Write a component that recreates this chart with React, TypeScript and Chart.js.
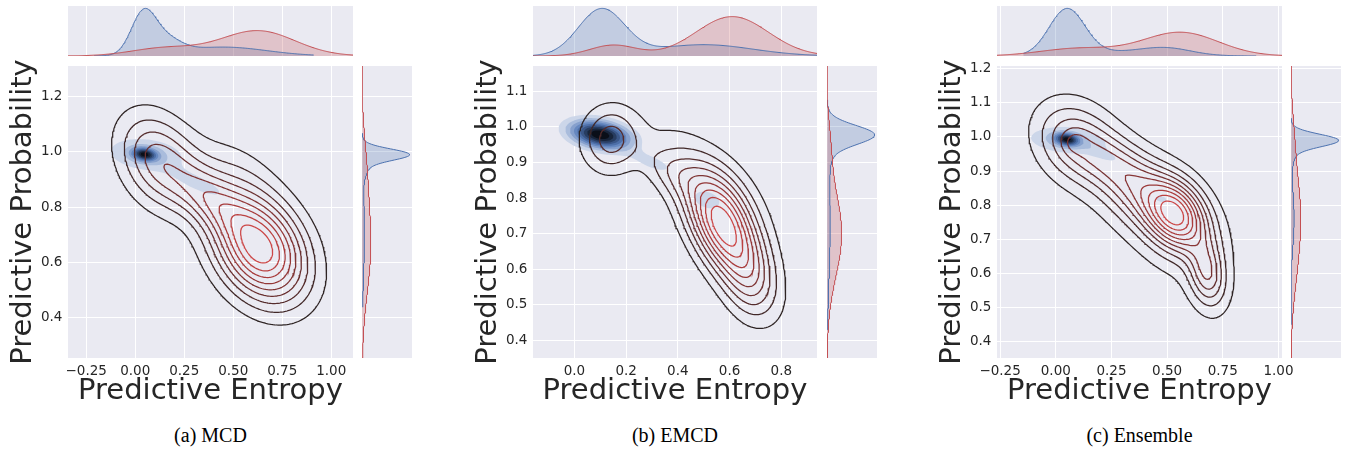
import React, { useEffect, useRef } from "react";
import { Chart, registerables } from "chart.js";
Chart.register(...registerables);

// ---------------- DATA ----------------
// 2-D kernels: [meanEntropy, meanProb, sdEntropy, sdProb, rho, peak]
// 1-D kernels: [mean, sd, peak]

// (a) MCD
const mcdXTicks = [-0.25, 0, 0.25, 0.5, 0.75, 1.0];
const mcdXTickLabels = ["\u22120.25", "0.00", "0.25", "0.50", "0.75", "1.00"];
const mcdYTicks = [0.4, 0.6, 0.8, 1.0, 1.2];
const mcdYTickLabels = ["0.4", "0.6", "0.8", "1.0", "1.2"];
const mcdXRange = [-0.343, 1.111];
const mcdYRange = [0.254, 1.31];
const mcdRedKernels = [
  [0.635, 0.65, 0.16, 0.13, -0.3, 1.0],
  [0.38, 0.83, 0.13, 0.085, -0.55, 0.38],
  [0.12, 0.965, 0.14, 0.119, -0.3, 0.45],
  [0.5, 0.93, 0.15, 0.1, -0.4, 0.12],
];
const mcdBlueKernels = [
  [0.048, 0.99, 0.04, 0.015, -0.2, 1.0],
  [0.055, 0.99, 0.13, 0.04, -0.2, 0.35],
  [0.32, 0.885, 0.11, 0.04, -0.8, 0.22],
];
const mcdBlueEntropy = [[0.04, 0.062, 40], [0.15, 0.08, 15], [0.45, 0.22, 9]];
const mcdRedEntropy = [[0.625, 0.19, 25.5], [0.15, 0.17, 8]];
const mcdBlueProb = [[0.99, 0.02, 42], [0.96, 0.04, 6], [0.7, 0.15, 2.5]];
const mcdRedProb = [[0.66, 0.17, 8.5], [0.95, 0.12, 3]];
const mcdBlueEntropySpan = [-0.21, 0.91];
const mcdBlueProbSpan = [0.438, 1.067];
const mcdRedLevels = 9;
const mcdBlueLevels = 9;

// (b) EMCD
const emcdXTicks = [0, 0.2, 0.4, 0.6, 0.8];
const emcdXTickLabels = ["0.0", "0.2", "0.4", "0.6", "0.8"];
const emcdYTicks = [0.4, 0.5, 0.6, 0.7, 0.8, 0.9, 1.0, 1.1];
const emcdYTickLabels = ["0.4", "0.5", "0.6", "0.7", "0.8", "0.9", "1.0", "1.1"];
const emcdXRange = [-0.16, 0.938];
const emcdYRange = [0.351, 1.171];
const emcdRedKernels = [
  [0.575, 0.725, 0.085, 0.095, -0.4, 0.6],
  [0.55, 0.74, 0.14, 0.15, -0.75, 0.32],
  [0.68, 0.57, 0.07, 0.08, -0.2, 0.25],
  [0.37, 0.875, 0.08, 0.05, -0.5, 0.14],
  [0.14, 0.965, 0.077, 0.064, 0, 0.34],
  [0.155, 0.96, 0.015, 0.012, 0, 0.02],
  [0.62, 0.8, 0.12, 0.1, -0.5, 0.08],
];
const emcdBlueKernels = [
  [0.1, 0.978, 0.075, 0.026, -0.3, 1.0],
  [0.3, 0.9, 0.07, 0.025, -0.7, 0.14],
  [0.513, 0.795, 0.04, 0.02, -0.3, 0.2],
];
const emcdBlueEntropy = [[0.105, 0.09, 47], [0.5, 0.19, 11.5]];
const emcdRedEntropy = [[0.61, 0.14, 40], [0.15, 0.09, 11]];
const emcdBlueProb = [[0.978, 0.026, 43], [0.95, 0.05, 4], [0.72, 0.15, 3.2]];
const emcdRedProb = [[0.7, 0.12, 14.5], [0.95, 0.07, 2.5]];
const emcdBlueEntropySpan = [-0.16, 0.938];
const emcdBlueProbSpan = [0.43, 1.076];
const emcdRedLevels = 9;
const emcdBlueLevels = 9;

// (c) Ensemble
const ensXTicks = [-0.25, 0, 0.25, 0.5, 0.75, 1.0];
const ensXTickLabels = ["\u22120.25", "0.00", "0.25", "0.50", "0.75", "1.00"];
const ensYTicks = [0.4, 0.5, 0.6, 0.7, 0.8, 0.9, 1.0, 1.1, 1.2];
const ensYTickLabels = ["0.4", "0.5", "0.6", "0.7", "0.8", "0.9", "1.0", "1.1", "1.2"];
const ensXRange = [-0.264, 1.016];
const ensYRange = [0.352, 1.208];
const ensRedKernels = [
  [0.545, 0.77, 0.09, 0.07, -0.25, 0.55],
  [0.42, 0.82, 0.16, 0.09, -0.6, 0.38],
  [0.68, 0.6, 0.055, 0.065, -0.2, 0.35],
  [0.08, 0.985, 0.12, 0.08, -0.2, 0.27],
  [0.083, 0.984, 0.035, 0.022, 0, 0.08],
  [0.25, 0.93, 0.12, 0.06, -0.5, 0.15],
  [0.45, 0.76, 0.32, 0.24, -0.7, 0.08],
];
const ensBlueKernels = [
  [0.05, 0.993, 0.035, 0.012, -0.2, 0.8],
  [0.055, 0.99, 0.12, 0.027, -0.2, 0.28],
  [0.22, 0.945, 0.06, 0.018, -0.7, 0.13],
  [0.473, 0.818, 0.035, 0.012, -0.3, 0.14],
];
const ensBlueEntropy = [[0.05, 0.08, 45.5], [0.3, 0.2, 4], [0.5, 0.11, 6]];
const ensRedEntropy = [[0.56, 0.17, 23.5], [0.1, 0.17, 7.5]];
const ensBlueProb = [[0.99, 0.018, 42], [0.965, 0.035, 4], [0.76, 0.08, 3]];
const ensRedProb = [[0.78, 0.12, 8.5], [0.6, 0.1, 3], [1.0, 0.08, 2]];
const ensBlueEntropySpan = [-0.145, 0.9];
const ensBlueProbSpan = [0.45, 1.055];
const ensRedLevels = 10;
const ensBlueLevels = 9;

const captions = ["(a) MCD", "(b) EMCD", "(c) Ensemble"];
const xTitle = "Predictive Entropy";
const yTitle = "Predictive Probability";

// ---------------- STYLE / LAYOUT ----------------
const FONT = "'DejaVu Sans', sans-serif";
const TEXT = "#262626";
const BG = "#EAEAF2";
const BLUE_STOPS = ["#ccd6e9", "#a9bcdc", "#86a0cd", "#6688c0", "#4d6fa8", "#3a5687", "#283d61", "#18253b", "#0a0f19"];
const RED_STOPS = ["#2e2424", "#4c2a2a", "#6e3131", "#903737", "#b03e3e", "#cc4747"];
const BLUE_LINE = "#4c72b0";
const RED_LINE = "#c44e52";
const BLUE_FILL = "rgba(76,114,176,0.25)";
const RED_FILL = "rgba(196,78,82,0.25)";

const layouts = [
  { L: 68, R: 353, mL: 362, mR: 412 },
  { L: 533, R: 817, mL: 827, mR: 877 },
  { L: 997, R: 1282, mL: 1291, mR: 1341 },
];
const PT = 66, PB = 358, TT = 6, TB = 56;

interface PanelData {
  xTicks: number[]; xTickLabels: string[]; yTicks: number[]; yTickLabels: string[];
  xRange: number[]; yRange: number[];
  red: number[][]; blue: number[][];
  blueEnt: number[][]; redEnt: number[][]; blueProb: number[][]; redProb: number[][];
  blueEntSpan: number[]; blueProbSpan: number[];
  redLevels: number; blueLevels: number;
}

const panels: PanelData[] = [
  { xTicks: mcdXTicks, xTickLabels: mcdXTickLabels, yTicks: mcdYTicks, yTickLabels: mcdYTickLabels,
    xRange: mcdXRange, yRange: mcdYRange, red: mcdRedKernels, blue: mcdBlueKernels,
    blueEnt: mcdBlueEntropy, redEnt: mcdRedEntropy, blueProb: mcdBlueProb, redProb: mcdRedProb,
    blueEntSpan: mcdBlueEntropySpan, blueProbSpan: mcdBlueProbSpan, redLevels: mcdRedLevels, blueLevels: mcdBlueLevels },
  { xTicks: emcdXTicks, xTickLabels: emcdXTickLabels, yTicks: emcdYTicks, yTickLabels: emcdYTickLabels,
    xRange: emcdXRange, yRange: emcdYRange, red: emcdRedKernels, blue: emcdBlueKernels,
    blueEnt: emcdBlueEntropy, redEnt: emcdRedEntropy, blueProb: emcdBlueProb, redProb: emcdRedProb,
    blueEntSpan: emcdBlueEntropySpan, blueProbSpan: emcdBlueProbSpan, redLevels: emcdRedLevels, blueLevels: emcdBlueLevels },
  { xTicks: ensXTicks, xTickLabels: ensXTickLabels, yTicks: ensYTicks, yTickLabels: ensYTickLabels,
    xRange: ensXRange, yRange: ensYRange, red: ensRedKernels, blue: ensBlueKernels,
    blueEnt: ensBlueEntropy, redEnt: ensRedEntropy, blueProb: ensBlueProb, redProb: ensRedProb,
    blueEntSpan: ensBlueEntropySpan, blueProbSpan: ensBlueProbSpan, redLevels: ensRedLevels, blueLevels: ensBlueLevels },
];

// ---------------- KDE helpers ----------------
type Pt = { x: number; y: number };

function density2(ks: number[][], x: number, y: number) {
  let s = 0;
  for (const [mx, my, sx, sy, r, a] of ks) {
    const dx = (x - mx) / sx, dy = (y - my) / sy;
    const q = (dx * dx - 2 * r * dx * dy + dy * dy) / (1 - r * r);
    s += a * Math.exp(-0.5 * q);
  }
  return s;
}
function density1(ks: number[][], v: number) {
  let s = 0;
  for (const [m, sd, a] of ks) { const d = (v - m) / sd; s += a * Math.exp(-0.5 * d * d); }
  return s;
}

function buildGrid(ks: number[][], xr: number[], yr: number[], n: number) {
  const pad = 0.3;
  const x0 = xr[0] - pad, x1 = xr[1] + pad, y0 = yr[0] - pad, y1 = yr[1] + pad;
  const nx = n, ny = n;
  const dx = (x1 - x0) / (nx - 1), dy = (y1 - y0) / (ny - 1);
  const f = new Float64Array(nx * ny);
  let max = 0;
  for (let j = 0; j < ny; j++) {
    const y = y0 + j * dy;
    for (let i = 0; i < nx; i++) {
      const v = density2(ks, x0 + i * dx, y);
      f[j * nx + i] = v;
      if (v > max) max = v;
    }
  }
  return { f, nx, ny, x0, y0, dx, dy, max };
}

function contourLoops(g: ReturnType<typeof buildGrid>, lev: number): Pt[][] {
  const { f, nx, ny, x0, y0, dx, dy } = g;
  const VOFF = nx * ny;
  const sa: number[] = [], sb: number[] = [];
  const adj = new Map<number, number[]>();
  const add = (e1: number, e2: number) => {
    const s = sa.length; sa.push(e1); sb.push(e2);
    for (const e of [e1, e2]) { const l = adj.get(e); if (l) l.push(s); else adj.set(e, [s]); }
  };
  for (let j = 0; j < ny - 1; j++) {
    for (let i = 0; i < nx - 1; i++) {
      const a = f[j * nx + i], b = f[j * nx + i + 1], c = f[(j + 1) * nx + i + 1], d = f[(j + 1) * nx + i];
      const idx = (a >= lev ? 1 : 0) | (b >= lev ? 2 : 0) | (c >= lev ? 4 : 0) | (d >= lev ? 8 : 0);
      if (idx === 0 || idx === 15) continue;
      const B = j * nx + i, T = (j + 1) * nx + i, Le = VOFF + j * nx + i, R = VOFF + j * nx + i + 1;
      switch (idx) {
        case 1: case 14: add(Le, B); break;
        case 2: case 13: add(B, R); break;
        case 3: case 12: add(Le, R); break;
        case 4: case 11: add(R, T); break;
        case 6: case 9: add(B, T); break;
        case 7: case 8: add(Le, T); break;
        case 5: { const ctr = (a + b + c + d) / 4; if (ctr >= lev) { add(B, R); add(T, Le); } else { add(Le, B); add(R, T); } break; }
        case 10: { const ctr = (a + b + c + d) / 4; if (ctr >= lev) { add(Le, B); add(R, T); } else { add(B, R); add(T, Le); } break; }
      }
    }
  }
  const pt = (e: number): Pt => {
    if (e < VOFF) {
      const j = Math.floor(e / nx), i = e % nx;
      const va = f[e], vb = f[e + 1];
      const t = (lev - va) / (vb - va);
      return { x: x0 + (i + t) * dx, y: y0 + j * dy };
    }
    const k = e - VOFF;
    const j = Math.floor(k / nx), i = k % nx;
    const va = f[k], vb = f[k + nx];
    const t = (lev - va) / (vb - va);
    return { x: x0 + i * dx, y: y0 + (j + t) * dy };
  };
  const used = new Uint8Array(sa.length);
  const loops: Pt[][] = [];
  const extend = (start: number, out: number[]) => {
    let cur = start;
    for (;;) {
      const l = adj.get(cur)!;
      let nxt = -1;
      for (const t of l) if (!used[t]) { nxt = t; break; }
      if (nxt < 0) break;
      used[nxt] = 1;
      const o = sa[nxt] === cur ? sb[nxt] : sa[nxt];
      out.push(o); cur = o;
    }
  };
  for (let s = 0; s < sa.length; s++) {
    if (used[s]) continue;
    used[s] = 1;
    const fwd = [sa[s], sb[s]];
    extend(sb[s], fwd);
    const back: number[] = [];
    extend(sa[s], back);
    const chain = back.reverse().concat(fwd);
    if (chain.length >= 4) loops.push(chain.map(pt));
  }
  return loops;
}

function hexToRgb(h: string) {
  return [parseInt(h.slice(1, 3), 16), parseInt(h.slice(3, 5), 16), parseInt(h.slice(5, 7), 16)];
}
function lerpStops(stops: string[], t: number) {
  const n = stops.length - 1;
  const s = Math.min(n - 1e-9, Math.max(0, t * n));
  const i = Math.floor(s), u = s - i;
  const a = hexToRgb(stops[i]), b = hexToRgb(stops[i + 1]);
  const c = a.map((v, k) => Math.round(v + (b[k] - v) * u));
  return `rgb(${c[0]},${c[1]},${c[2]})`;
}

function sample(ks: number[][], lo: number, hi: number, horizontal: boolean): Pt[] {
  const n = 300, pts: Pt[] = [];
  for (let i = 0; i < n; i++) {
    const v = lo + ((hi - lo) * i) / (n - 1);
    const d = density1(ks, v);
    pts.push(horizontal ? { x: v, y: d } : { x: d, y: v });
  }
  return pts;
}

const bgPlugin = {
  id: "bgArea",
  beforeDraw(chart: any) {
    const { ctx, chartArea } = chart;
    if (!chartArea) return;
    ctx.save();
    ctx.fillStyle = BG;
    ctx.fillRect(chartArea.left, chartArea.top, chartArea.right - chartArea.left, chartArea.bottom - chartArea.top);
    ctx.restore();
  },
};

const baseOpts = {
  animation: false as const,
  responsive: false,
  events: [] as any[],
  plugins: { legend: { display: false }, tooltip: { enabled: false } },
};

function tickSetter(ticks: number[]) {
  return (s: any) => { s.ticks = ticks.map((v) => ({ value: v })); };
}

function mainConfig(p: PanelData): any {
  const datasets: any[] = [];
  const bg = buildGrid(p.blue, p.xRange, p.yRange, 230);
  for (let k = 1; k <= p.blueLevels; k++) {
    const lev = (bg.max * k) / (p.blueLevels + 1);
    const color = lerpStops(BLUE_STOPS, (k - 1) / (p.blueLevels - 1));
    for (const loop of contourLoops(bg, lev)) {
      datasets.push({ data: loop, showLine: true, fill: "shape", backgroundColor: color,
        borderColor: "rgba(0,0,0,0)", borderWidth: 0, pointRadius: 0, order: 500 - k });
    }
  }
  const rg = buildGrid(p.red, p.xRange, p.yRange, 230);
  for (let k = 1; k <= p.redLevels; k++) {
    const lev = (rg.max * k) / (p.redLevels + 1);
    const color = lerpStops(RED_STOPS, (k - 1) / (p.redLevels - 1));
    for (const loop of contourLoops(rg, lev)) {
      datasets.push({ data: loop, showLine: true, fill: false, borderColor: color,
        borderWidth: 1.25, pointRadius: 0, order: 0 });
    }
  }
  const tickFont = { family: FONT, size: 13.5 };
  const titleFont = { family: FONT, size: 29 };
  return {
    type: "scatter",
    data: { datasets },
    plugins: [bgPlugin],
    options: {
      ...baseOpts,
      layout: { padding: { top: 20, right: 24, left: 0, bottom: 0 } },
      scales: {
        x: {
          type: "linear", min: p.xRange[0], max: p.xRange[1],
          afterBuildTicks: tickSetter(p.xTicks),
          afterFit: (s: any) => { s.height = 62; },
          ticks: { callback: (_v: any, i: number) => p.xTickLabels[i], font: tickFont, color: TEXT,
            padding: 5.5, maxRotation: 0, autoSkip: false },
          grid: { color: "#ffffff", lineWidth: 1, drawTicks: false },
          border: { display: false },
          title: { display: true, text: xTitle, font: titleFont, color: TEXT, padding: { top: 0, bottom: 10.9 } },
        },
        y: {
          type: "linear", min: p.yRange[0], max: p.yRange[1],
          afterBuildTicks: tickSetter(p.yTicks),
          afterFit: (s: any) => { s.width = 68; },
          ticks: { callback: (_v: any, i: number) => p.yTickLabels[i], font: tickFont, color: TEXT,
            padding: 5.6, autoSkip: false },
          grid: { color: "#ffffff", lineWidth: 1, drawTicks: false },
          border: { display: false },
          title: { display: true, text: yTitle, font: titleFont, color: TEXT, padding: { top: 5.6, bottom: 0 } },
        },
      },
    },
  };
}

function topConfig(p: PanelData): any {
  const blue = sample(p.blueEnt, Math.max(p.blueEntSpan[0], p.xRange[0]), Math.min(p.blueEntSpan[1], p.xRange[1]), true);
  const red = sample(p.redEnt, p.xRange[0], p.xRange[1], true);
  const mx = Math.max(...blue.map((d) => d.y), ...red.map((d) => d.y));
  const close = (c: Pt[]) => [{ x: c[0].x, y: 0 }, ...c, { x: c[c.length - 1].x, y: 0 }];
  return {
    type: "scatter",
    data: {
      datasets: [
        { data: close(blue), showLine: true, fill: "shape", backgroundColor: BLUE_FILL, borderColor: "rgba(0,0,0,0)", borderWidth: 0, pointRadius: 0, order: 4 },
        { data: close(red), showLine: true, fill: "shape", backgroundColor: RED_FILL, borderColor: "rgba(0,0,0,0)", borderWidth: 0, pointRadius: 0, order: 3 },
        { data: blue, showLine: true, fill: false, borderColor: BLUE_LINE, borderWidth: 1, pointRadius: 0, order: 2 },
        { data: red, showLine: true, fill: false, borderColor: RED_LINE, borderWidth: 1, pointRadius: 0, order: 1 },
      ],
    },
    plugins: [bgPlugin],
    options: {
      ...baseOpts,
      layout: { padding: 0 },
      scales: {
        x: {
          type: "linear", min: p.xRange[0], max: p.xRange[1],
          afterBuildTicks: tickSetter(p.xTicks),
          afterFit: (s: any) => { s.height = 0; },
          ticks: { display: false },
          grid: { color: "#ffffff", lineWidth: 1, drawTicks: false },
          border: { display: false },
        },
        y: { type: "linear", min: 0, max: mx * 1.05, display: false },
      },
    },
  };
}

function rightConfig(p: PanelData): any {
  const blue = sample(p.blueProb, Math.max(p.blueProbSpan[0], p.yRange[0]), Math.min(p.blueProbSpan[1], p.yRange[1]), false);
  const red = sample(p.redProb, p.yRange[0], p.yRange[1], false);
  const mx = Math.max(...blue.map((d) => d.x), ...red.map((d) => d.x));
  const close = (c: Pt[]) => [{ x: 0, y: c[0].y }, ...c, { x: 0, y: c[c.length - 1].y }];
  return {
    type: "scatter",
    data: {
      datasets: [
        { data: close(blue), showLine: true, fill: "shape", backgroundColor: BLUE_FILL, borderColor: "rgba(0,0,0,0)", borderWidth: 0, pointRadius: 0, order: 4 },
        { data: close(red), showLine: true, fill: "shape", backgroundColor: RED_FILL, borderColor: "rgba(0,0,0,0)", borderWidth: 0, pointRadius: 0, order: 3 },
        { data: blue, showLine: true, fill: false, borderColor: BLUE_LINE, borderWidth: 1, pointRadius: 0, order: 2 },
        { data: red, showLine: true, fill: false, borderColor: RED_LINE, borderWidth: 1, pointRadius: 0, order: 1 },
      ],
    },
    plugins: [bgPlugin],
    options: {
      ...baseOpts,
      layout: { padding: 0 },
      scales: {
        x: { type: "linear", min: 0, max: mx * 1.05, display: false },
        y: {
          type: "linear", min: p.yRange[0], max: p.yRange[1],
          afterBuildTicks: tickSetter(p.yTicks),
          afterFit: (s: any) => { s.width = 0; },
          ticks: { display: false },
          grid: { color: "#ffffff", lineWidth: 1, drawTicks: false },
          border: { display: false },
        },
      },
    },
  };
}

function ChartBox(props: { left: number; top: number; width: number; height: number; make: () => any }) {
  const ref = useRef<HTMLCanvasElement>(null);
  useEffect(() => {
    const chart = new Chart(ref.current as HTMLCanvasElement, props.make());
    return () => chart.destroy();
  }, []);
  const { left, top, width, height } = props;
  return (
    <canvas ref={ref} width={width} height={height}
      style={{ position: "absolute", left, top, width, height, display: "block" }} />
  );
}

export default function App() {
  return (
    <div style={{ position: "absolute", left: 0, top: 0, width: 1351, height: 452, background: "#ffffff", overflow: "hidden" }}>
      {panels.map((p, i) => {
        const g = layouts[i];
        const cx = (g.L + g.R) / 2;
        return (
          <React.Fragment key={i}>
            <ChartBox left={g.L - 68} top={PT - 20} width={68 + (g.R - g.L) + 24} height={20 + (PB - PT) + 62} make={() => mainConfig(p)} />
            <ChartBox left={g.L} top={TT} width={g.R - g.L} height={TB - TT} make={() => topConfig(p)} />
            <ChartBox left={g.mL} top={PT} width={g.mR - g.mL} height={PB - PT} make={() => rightConfig(p)} />
            <div style={{ position: "absolute", left: cx - 150, width: 300, top: 425, textAlign: "center",
              fontFamily: "'Liberation Serif', 'Times New Roman', serif", fontSize: 20, lineHeight: "20px", color: "#000" }}>
              {captions[i]}
            </div>
          </React.Fragment>
        );
      })}
    </div>
  );
}
